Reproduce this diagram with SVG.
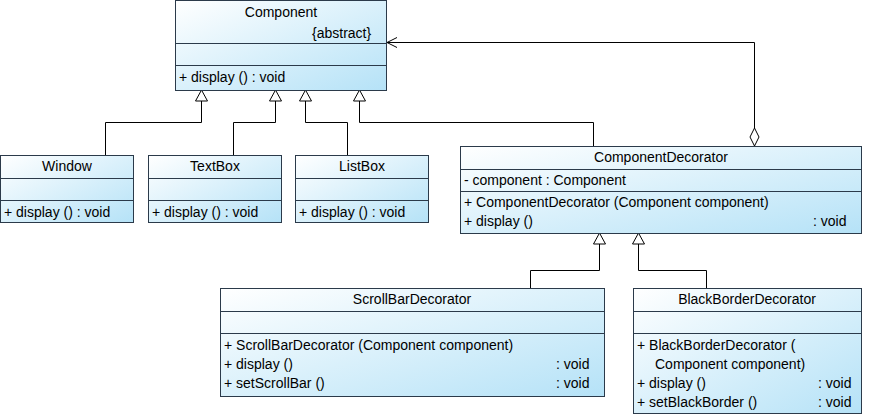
<svg xmlns="http://www.w3.org/2000/svg" width="875" height="416" viewBox="0 0 875 416">
<defs>
<linearGradient id="g" x1="0" y1="0" x2="1" y2="1"><stop offset="0" stop-color="#ffffff"/><stop offset="1" stop-color="#b5e2f7"/></linearGradient>
<marker id="tri" markerWidth="14" markerHeight="14" refX="6" refY="1" orient="auto-start-reverse" markerUnits="userSpaceOnUse" viewBox="0 0 12 14"><path d="M6 1 L12 12 L0 12 Z" fill="#fff" stroke="#000"/></marker>
</defs>
<style>
.b{fill:url(#g);stroke:#2b3a4a;stroke-width:1}
.l{stroke:#2b3a4a;stroke-width:1;fill:none}
text{font-family:"Liberation Sans",Arial,sans-serif;font-size:14px;fill:#000}
.c{text-anchor:middle}
.w{stroke:#000;fill:none;stroke-width:1}
</style>
<g id="connectors">
<path class="w" d="M105.5 155V122.5H201.5V90"/>
<path class="w" d="M233.5 155V122.5H275.5V90"/>
<path class="w" d="M347.5 155V122.5H305.5V90"/>
<path class="w" d="M593.5 146V122.5H359.5V90"/>
<path class="w" d="M530.5 288V270.5H599.5V233"/>
<path class="w" d="M706.5 288V270.5H638.5V233"/>
<g fill="#fff" stroke="#000">
<path d="M201.5 90l-6 11h12z"/><path d="M275.5 90l-6 11h12z"/><path d="M305.5 90l-6 11h12z"/><path d="M359.5 90l-6 11h12z"/>
<path d="M599.5 233l-6 11h12z"/><path d="M638.5 233l-6 11h12z"/>
</g>
<path class="w" d="M754.5 128V42.5H387"/>
<path class="w" d="M397 37.5L387 42.5L397 47.5"/>
<path d="M754.5 146l-4.5-9 4.5-9 4.5 9z" fill="#fff" stroke="#000"/>
</g>
<g id="Component">
<rect class="b" x="175.5" y="0.5" width="211" height="90"/>
<path class="l" d="M175.5 43.5H386.5M175.5 65.5H386.5"/>
<text class="c" x="281" y="17">Component</text>
<text x="312" y="38">{abstract}</text>
<text x="179" y="82">+  display () : void</text>
</g>
<g id="Window">
<rect class="b" x="0.5" y="155.5" width="133" height="67"/>
<path class="l" d="M0.5 178.5H133.5M0.5 200.5H133.5"/>
<text class="c" x="67" y="171">Window</text>
<text x="4" y="217">+  display () : void</text>
</g>
<g id="TextBox">
<rect class="b" x="148.5" y="155.5" width="133" height="67"/>
<path class="l" d="M148.5 178.5H281.5M148.5 200.5H281.5"/>
<text class="c" x="215" y="171">TextBox</text>
<text x="152" y="217">+  display () : void</text>
</g>
<g id="ListBox">
<rect class="b" x="295.5" y="155.5" width="133" height="67"/>
<path class="l" d="M295.5 178.5H428.5M295.5 200.5H428.5"/>
<text class="c" x="362" y="171">ListBox</text>
<text x="299" y="217">+  display () : void</text>
</g>
<g id="ComponentDecorator">
<rect class="b" x="460.5" y="146.5" width="401" height="87"/>
<path class="l" d="M460.5 169.5H861.5M460.5 191.5H861.5"/>
<text class="c" x="661" y="162">ComponentDecorator</text>
<text x="464" y="185">-  component : Component</text>
<text x="464" y="207">+  ComponentDecorator (Component component)</text>
<text x="464" y="226">+  display ()</text>
<text x="813" y="226">: void</text>
</g>
<g id="ScrollBarDecorator">
<rect class="b" x="220.5" y="288.5" width="384" height="108"/>
<path class="l" d="M220.5 311.5H604.5M220.5 333.5H604.5"/>
<text class="c" x="412" y="304">ScrollBarDecorator</text>
<text x="224" y="350">+  ScrollBarDecorator (Component component)</text>
<text x="224" y="369">+  display ()</text>
<text x="556" y="369">: void</text>
<text x="224" y="388">+  setScrollBar ()</text>
<text x="556" y="388">: void</text>
</g>
<g id="BlackBorderDecorator">
<rect class="b" x="633.5" y="288.5" width="228" height="125"/>
<path class="l" d="M633.5 311.5H861.5M633.5 333.5H861.5"/>
<text class="c" x="747" y="304">BlackBorderDecorator</text>
<text x="637" y="350">+  BlackBorderDecorator (</text>
<text x="655" y="369">Component component)</text>
<text x="637" y="388">+  display ()</text>
<text x="818" y="388">: void</text>
<text x="637" y="407">+  setBlackBorder ()</text>
<text x="818" y="407">: void</text>
</g>
</svg>
